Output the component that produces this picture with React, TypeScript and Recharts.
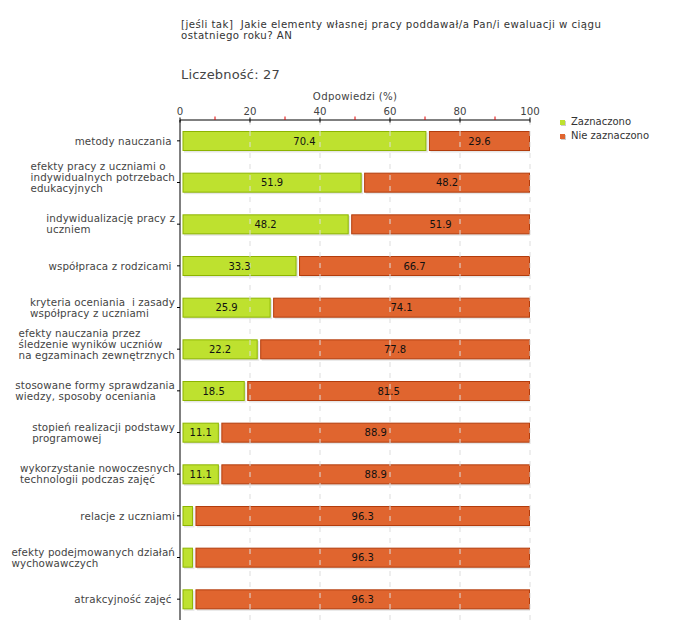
import React from 'react';
import { BarChart, Bar, XAxis, YAxis, ReferenceLine, LabelList } from 'recharts';

const categories = [
  'metody nauczania ',
  'efekty pracy z uczniami o\nindywidualnych potrzebach\nedukacyjnych',
  'indywidualizację pracy z\nuczniem',
  'współpraca z rodzicami ',
  'kryteria oceniania  i zasady\nwspółpracy z uczniami',
  'efekty nauczania przez\nśledzenie wyników uczniów\nna egzaminach zewnętrznych',
  'stosowane formy sprawdzania\nwiedzy, sposoby oceniania',
  'stopień realizacji podstawy\nprogramowej',
  'wykorzystanie nowoczesnych\ntechnologii podczas zajęć',
  'relacje z uczniami',
  'efekty podejmowanych działań\nwychowawczych',
  'atrakcyjność zajęć ',
];
const zaznaczono = [70.4, 51.9, 48.2, 33.3, 25.9, 22.2, 18.5, 11.1, 11.1, 3.7, 3.7, 3.7];
const nieZaznaczono = [29.6, 48.2, 51.9, 66.7, 74.1, 77.8, 81.5, 88.9, 88.9, 96.3, 96.3, 96.3];
const xTicks = [0, 10, 20, 30, 40, 50, 60, 70, 80, 90, 100];
const gridValues = [20, 40, 60, 80, 100];

const data = categories.map((name, i) => ({ name, zaznaczono: zaznaczono[i], nie: nieZaznaczono[i] }));

const FONT = '"DejaVu Sans", Verdana, sans-serif';
const GREEN = '#bee12f';
const GREEN_EDGE = '#8cb400';
const ORANGE = '#e0652f';
const ORANGE_EDGE = '#b23c0c';
const INSET = 2.5;
const CAT_SIZE = 10.3;
const CAT_SPACING = 0.12;

let ctx: CanvasRenderingContext2D | null = null;
function textWidth(s: string, size: number) {
  if (!ctx) ctx = document.createElement('canvas').getContext('2d');
  if (!ctx) return s.length * size * 0.58;
  ctx.font = `${size}px "DejaVu Sans"`;
  return ctx.measureText(s).width + s.length * CAT_SPACING;
}

function makeShape(fill: string, stroke: string) {
  // eslint-disable-next-line @typescript-eslint/no-explicit-any
  return (props: any) => {
    const { x, y, width, height } = props;
    const bx = x + INSET;
    const bw = Math.max(width - INSET, 1);
    return (
      <g>
        <rect x={bx + 1.5} y={y + 1.5} width={bw} height={height} fill="#e6e6e6" />
        <rect x={bx + 0.5} y={y + 0.5} width={bw - 1} height={height - 1} fill={fill} stroke={stroke} strokeWidth={1} />
      </g>
    );
  };
}

// eslint-disable-next-line @typescript-eslint/no-explicit-any
function ValueLabel(props: any) {
  const { x, y, width, height, value } = props;
  if (value < 5) return null;
  return (
    <text x={x + INSET + (width - INSET) / 2} y={y + height / 2} dy="0.36em" textAnchor="middle"
      fontSize={10} fontFamily={FONT} fill="#111">
      {Number(value).toFixed(1)}
    </text>
  );
}

// eslint-disable-next-line @typescript-eslint/no-explicit-any
function XTick(props: any) {
  const { x, y, payload } = props;
  const v = payload.value as number;
  if (v % 20 !== 0) {
    return <line x1={x} x2={x} y1={y - 3.5} y2={y} stroke="#e00000" strokeWidth={1} />;
  }
  return (
    <g>
      <line x1={x} x2={x} y1={y - 2.5} y2={y + 2.5} stroke="#000" strokeWidth={1} />
      <text x={x} y={y - 4.8} textAnchor="middle" fontSize={10.2} fontFamily={FONT} fill="#444">{v}</text>
    </g>
  );
}

// eslint-disable-next-line @typescript-eslint/no-explicit-any
function YTick(props: any) {
  const { x, y, payload } = props;
  const lines = String(payload.value).split('\n');
  const lh = 10.8;
  const maxW = Math.max(...lines.map(l => textWidth(l, CAT_SIZE)));
  const shift = lines.length > 2 ? -5 : 0;
  return (
    <g>
      {lines.map((l, i) => (
        <text key={i} x={x - maxW} y={y + (i - (lines.length - 1) / 2) * lh + shift} dy="0.36em"
          textAnchor="start" fontSize={CAT_SIZE} fontFamily={FONT} fill="#444"
          style={{ whiteSpace: 'pre', letterSpacing: CAT_SPACING }}>
          {l}
        </text>
      ))}
    </g>
  );
}

export default function App() {
  return (
    <div style={{ position: 'absolute', left: 0, top: 0, width: 680, height: 640, background: '#fff', fontFamily: FONT }}>
      <div style={{ position: 'absolute', left: 181, top: 19, fontSize: 10.2, lineHeight: '11px', color: '#333', whiteSpace: 'pre', letterSpacing: 0.45 }}>
        {'[jeśli tak]  Jakie elementy własnej pracy poddawał/a Pan/i ewaluacji w ciągu'}
        <br />
        {'ostatniego roku? AN'}
      </div>
      <div style={{ position: 'absolute', left: 181, top: 67, fontSize: 13, lineHeight: '16px', color: '#444', letterSpacing: 0.2 }}>
        Liczebność: 27
      </div>
      <BarChart width={680} height={640} data={data} layout="vertical" barSize={20}
        margin={{ top: 90, right: 150, bottom: 20, left: 0 }}>
        <XAxis type="number" orientation="top" domain={[0, 100]} allowDataOverflow ticks={xTicks}
          interval={0} height={30} tickSize={0} tickMargin={0} tickLine={false}
          axisLine={{ stroke: '#000' }} tick={<XTick />}
          label={{ value: 'Odpowiedzi (%)', position: 'insideTop', offset: 3, fontSize: 10.2, fill: '#444', fontFamily: FONT, letterSpacing: 0.3 }} />
        <YAxis type="category" dataKey="name" width={180} interval={0} tickSize={3} tickMargin={2}
          axisLine={{ stroke: '#000' }} tickLine={{ stroke: '#000' }} tick={<YTick />} />
        {gridValues.map(v => (
          <ReferenceLine key={v} x={v} stroke="#dddddd" strokeDasharray="5 6" />
        ))}
        <Bar dataKey="zaznaczono" stackId="a" isAnimationActive={false} shape={makeShape(GREEN, GREEN_EDGE)}>
          <LabelList dataKey="zaznaczono" content={<ValueLabel />} />
        </Bar>
        <Bar dataKey="nie" stackId="a" isAnimationActive={false} shape={makeShape(ORANGE, ORANGE_EDGE)}>
          <LabelList dataKey="nie" content={<ValueLabel />} />
        </Bar>
      </BarChart>
      <div style={{ position: 'absolute', left: 560, top: 115, fontSize: 10, lineHeight: '14px', color: '#333' }}>
        {[{ c: GREEN, t: 'Zaznaczono' }, { c: ORANGE, t: 'Nie zaznaczono' }].map(item => (
          <div key={item.t} style={{ display: 'flex', alignItems: 'center' }}>
            <span style={{ width: 5, height: 5, background: item.c, boxShadow: '1px 1px 0 #ccc', marginRight: 6 }} />
            <span>{item.t}</span>
          </div>
        ))}
      </div>
    </div>
  );
}
